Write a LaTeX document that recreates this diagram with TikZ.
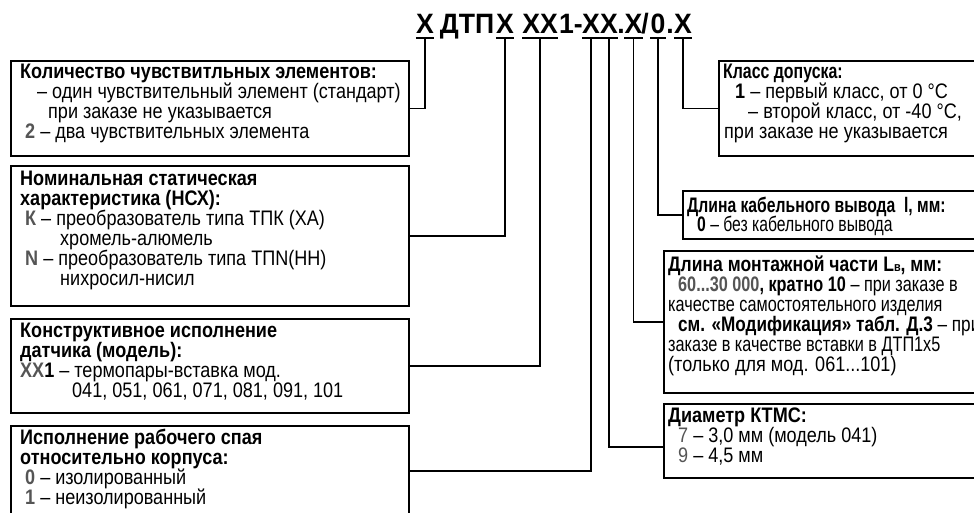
\documentclass[tikz,border=0pt]{standalone}
\usepackage{fontspec}
\usepackage{graphicx}
\setmainfont{Liberation Sans}[FakeStretch=0.86]
\newfontfamily\titlefont{Liberation Sans}[FakeStretch=0.95]
\definecolor{codegray}{HTML}{555555}
\newcommand{\cg}[1]{\textbf{\textcolor{codegray}{#1}}}
\newcommand{\sqz}[2]{\scalebox{#1}[1]{#2}}
\begin{document}
\begin{tikzpicture}[x=1pt,y=-1pt,
  box/.style={draw, line width=1.6pt, rectangle, inner sep=0pt, anchor=north west},
  txt/.style={anchor=base west, inner sep=0pt, font=\fontsize{21}{21}\selectfont},
  code/.style={anchor=base, inner sep=0pt, font=\titlefont\bfseries\fontsize{28}{28}\selectfont},
  uline/.style={line width=1.6pt},
  conn/.style={line width=1.6pt}]
\clip (0,0) rectangle (974,512);
\fill[white] (0,0) rectangle (974,512);

% ---- title ----
\node[code] (c1) at (425,33) {X};
\node[code] (d1) at (467,33) {ДТП};
\node[code] (c2) at (505,33) {X};
\node[code] (c3) at (540,33) {XX};
\node[code] (d2) at (571,33) {1-};
\node[code] (c4) at (591,33) {X};
\node[code] (c5) at (609,33) {X};
\node[code] (d3) at (621,33) {.};
\node[code] (c6) at (633.5,33) {X};
\node[code] (d4) at (645,33) {/};
\node[code] (c7) at (658,33) {0};
\node[code] (d5) at (670,33) {.};
\node[code] (c8) at (683,33) {X};
\foreach \c in {c1,c2,c3,c4,c5,c6,c7,c8}
  \draw[uline] ([yshift=-5pt]\c.base west) -- ([yshift=-5pt]\c.base east);

% ---- left boxes ----
\node[box, minimum width=398pt, minimum height=95pt] (b1) at (10,60) {};
\node[box, minimum width=398pt, minimum height=140pt] (b2) at (10,165) {};
\node[box, minimum width=398pt, minimum height=94pt] (b3) at (10,318) {};
\node[box, minimum width=398pt, minimum height=90pt] (b4) at (10,425) {};

% ---- right boxes ----
\node[box, minimum width=320pt, minimum height=95pt] (r1) at (718,60) {};
\node[box, minimum width=360pt, minimum height=48pt] (r2) at (682,190) {};
\node[box, minimum width=360pt, minimum height=142pt] (r3) at (663,250) {};
\node[box, minimum width=360pt, minimum height=74pt] (r4) at (663,403) {};

% ---- connectors ----
\draw[conn] ([yshift=-5pt]c1.base) |- (b1.east);
\draw[conn] ([yshift=-5pt]c2.base) |- (b2.east);
\draw[conn] ([yshift=-5pt]c3.base) |- (b3.east);
\draw[conn] ([yshift=-5pt]c4.base) |- (b4.east);
\draw[conn] ([yshift=-5pt]c5.base) |- ([yshift=-6pt]r4.west);
\draw[conn] ([yshift=-5pt]c6.base) |- (r3.west);
\draw[conn] ([yshift=-5pt]c7.base) |- (r2.west);
\draw[conn] ([yshift=-5pt]c8.base) |- (r1.west);

% ---- box 1 text ----
\node[txt] (t11) at (20,78) {\textbf{Количество чувствитльных элементов:}};
\node[txt] (t12) at (37,98) {– один чувствительный элемент (стандарт)};
\node[txt] (t13) at (48,118) {при заказе не указывается};
\node[txt] (t14) at (25,138) {\cg{2} – два чувствительных элемента};

% ---- box 2 text ----
\node[txt] (t21) at (20,185) {\textbf{Номинальная статическая}};
\node[txt] (t22) at (20,205) {\textbf{характеристика (НСХ):}};
\node[txt] (t23) at (25,225) {\cg{К} – преобразователь типа ТПК (ХА)};
\node[txt] (t24) at (60,245) {хромель-алюмель};
\node[txt] (t25) at (25,265) {\cg{N} – преобразователь типа ТПN(НН)};
\node[txt] (t26) at (60,285) {нихросил-нисил};

% ---- box 3 text ----
\node[txt] (t31) at (20,337) {\textbf{Конструктивное исполнение}};
\node[txt] (t32) at (20,357) {\textbf{датчика (модель):}};
\node[txt] (t33) at (20,377) {\cg{XX}\textbf{1} – термопары-вставка мод.};
\node[txt] (t34) at (72,397) {041, 051, 061, 071, 081, 091, 101};

% ---- box 4 text ----
\node[txt] (t41) at (20,444) {\textbf{Исполнение рабочего спая}};
\node[txt] (t42) at (20,464) {\textbf{относительно корпуса:}};
\node[txt] (t43) at (25,484) {\cg{0} – изолированный};
\node[txt] (t44) at (25,504) {\cg{1} – неизолированный};

% ---- right box 1 text ----
\node[txt] (s11) at (723,78) {\sqz{0.88}{\textbf{Класс допуска:}}};
\node[txt] (s12) at (735,98) {\textbf{1} – первый класс, от 0 °C};
\node[txt] (s13) at (748,118) {– второй класс, от -40 °C,};
\node[txt] (s14) at (724,138) {при заказе не указывается};

% ---- right box 2 text ----
\node[txt] (s21) at (687,212) {\sqz{0.87}{\textbf{Длина кабельного вывода\ \ l, мм:}}};
\node[txt] (s22) at (697,231) {\sqz{0.87}{\textbf{0} – без кабельного вывода}};

% ---- right box 3 text ----
\node[txt] (s31) at (668,271) {\sqz{0.97}{\textbf{Длина монтажной части L{\fontsize{13}{13}\selectfont в}, мм:}}};
\node[txt] (s32) at (678,291) {\sqz{0.9}{\cg{60...30 000}\textbf{, кратно 10} – при заказе в}};
\node[txt] (s33) at (668,311) {\sqz{0.9}{качестве самостоятельного изделия}};
\node[txt] (s34) at (678,331) {\sqz{0.95}{\textbf{см. «Модификация» табл. Д.3} – при}};
\node[txt] (s35) at (668,351) {\sqz{0.9}{заказе в качестве вставки в ДТП1х5}};
\node[txt] (s36) at (668,371) {(только для мод. 061...101)};

% ---- right box 4 text ----
\node[txt] (s41) at (668,422) {\textbf{Диаметр КТМС:}};
\node[txt] (s42) at (678,442) {\textcolor{codegray}{7} – 3,0 мм (модель 041)};
\node[txt] (s43) at (678,462) {\textcolor{codegray}{9} – 4,5 мм};
\end{tikzpicture}
\end{document}
